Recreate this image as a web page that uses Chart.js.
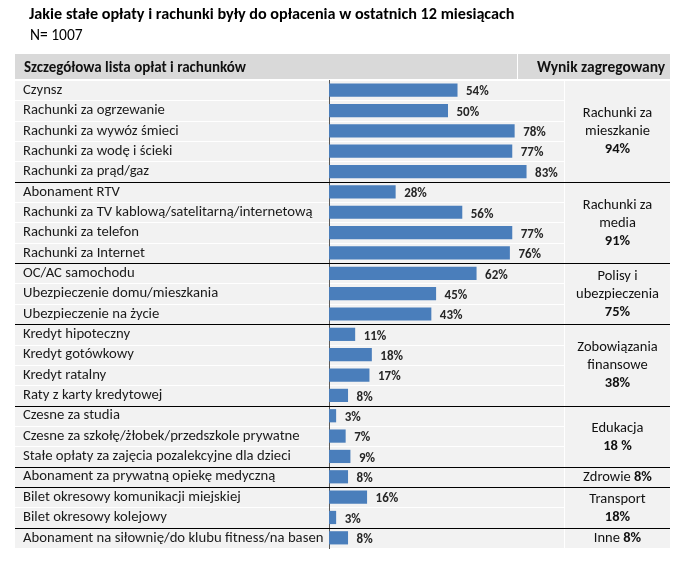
<!DOCTYPE html>
<html><head><meta charset="utf-8">
<script src="https://cdn.jsdelivr.net/npm/chart.js@4/dist/chart.umd.min.js"></script>
<style>html,body{margin:0;padding:0;background:#fff;}#wrap{width:686px;height:563px;position:relative;}</style>
</head><body><div id="wrap"><canvas id="c"></canvas></div>
<script>
const title = "Jakie stałe opłaty i rachunki były do opłacenia w ostatnich 12 miesiącach";
const subtitle = "N= 1007";
const headerLeft = "Szczegółowa lista opłat i rachunków";
const headerRight = "Wynik zagregowany";
const categories = [
  "Czynsz","Rachunki za ogrzewanie","Rachunki za wywóz śmieci","Rachunki za wodę i ścieki","Rachunki za prąd/gaz",
  "Abonament RTV","Rachunki za TV kablową/satelitarną/internetową","Rachunki za telefon","Rachunki za Internet",
  "OC/AC samochodu","Ubezpieczenie domu/mieszkania","Ubezpieczenie na życie",
  "Kredyt hipoteczny","Kredyt gotówkowy","Kredyt ratalny","Raty z karty kredytowej",
  "Czesne za studia","Czesne za szkołę/żłobek/przedszkole prywatne","Stałe opłaty za zajęcia pozalekcyjne dla dzieci",
  "Abonament za prywatną opiekę medyczną",
  "Bilet okresowy komunikacji miejskiej","Bilet okresowy kolejowy",
  "Abonament na siłownię/do klubu fitness/na basen"
];
const values = [54,50,78,77,83,28,56,77,76,62,45,43,11,18,17,8,3,7,9,8,16,3,8];
const groupSizes = [5,4,3,4,3,1,2,1];
const groupNames = [["Rachunki za","mieszkanie"],["Rachunki za","media"],["Polisy i","ubezpieczenia"],["Zobowiązania","finansowe"],["Edukacja"],["Zdrowie"],["Transport"],["Inne"]];
const groupTotals = ["94%","91%","75%","38%","18 %","8%","18%","8%"];
const groupInline = [false,false,false,false,false,true,false,true];

const FONT = 'Carlito, Lato, "Open Sans", sans-serif';
const L = 15, R = 670, COL2 = 564, HDIV = 517;

const tablePlugin = {
  id: 'table',
  beforeDraw(chart) {
    const ctx = chart.ctx, ca = chart.chartArea, y = chart.scales.y;
    const n = categories.length, rh = (ca.bottom - ca.top) / n;
    ctx.save();
    ctx.fillStyle = '#fff';
    ctx.fillRect(0, 0, chart.width, chart.height);
    ctx.fillStyle = '#000';
    ctx.textBaseline = 'middle';
    ctx.textAlign = 'left';
    ctx.font = 'bold 16.2px ' + FONT;
    ctx.fillText(title, 29, 15);
    ctx.font = '15.5px ' + FONT;
    ctx.fillText(subtitle, 30, 36);
    // header
    ctx.fillStyle = '#d9d9d9';
    ctx.fillRect(L, 54, R - L, ca.top - 55);
    ctx.fillStyle = '#fff';
    ctx.fillRect(HDIV, 54, 1, ca.top - 55);
    ctx.fillStyle = '#111';
    ctx.font = 'bold 15px ' + FONT;
    ctx.fillText(headerLeft, 24, 68);
    ctx.font = 'bold 15.5px ' + FONT;
    ctx.textAlign = 'center';
    ctx.fillText(headerRight, 601, 68);
    // rows
    ctx.fillStyle = '#f2f2f2';
    for (let i = 0; i < n; i++) {
      const c = y.getPixelForValue(i);
      const t = Math.round(c - rh / 2), b = Math.round(c + rh / 2);
      ctx.fillRect(L, t + 1, COL2 - L, b - t - 1);
    }
    let idx = 0;
    groupSizes.forEach(s => {
      const t = Math.round(y.getPixelForValue(idx) - rh / 2);
      const b = Math.round(y.getPixelForValue(idx + s - 1) + rh / 2);
      ctx.fillRect(COL2 + 1, t + 1, R - COL2 - 1, b - t - 1);
      idx += s;
    });
    ctx.restore();
  },
  afterDraw(chart) {
    const ctx = chart.ctx, ca = chart.chartArea, y = chart.scales.y;
    const n = categories.length, rh = (ca.bottom - ca.top) / n;
    const meta = chart.getDatasetMeta(0);
    ctx.save();
    ctx.textBaseline = 'middle';
    ctx.textAlign = 'left';
    ctx.fillStyle = '#262626';
    ctx.font = 'bold 13px ' + FONT;
    meta.data.forEach((bar, i) => {
      ctx.fillText(values[i] + '%', bar.x + 8.5, bar.y + 2);
    });
    // group lines and labels
    let idx = 0;
    groupSizes.forEach((s, g) => {
      const t = y.getPixelForValue(idx) - rh / 2;
      const b = y.getPixelForValue(idx + s - 1) + rh / 2;
      if (idx > 0) {
        ctx.fillStyle = '#000';
        ctx.fillRect(L, Math.round(t), R - L, 1);
      }
      const cx = 617.5, cy = (t + b) / 2 + 1;
      ctx.fillStyle = '#111';
      const fs = '14.5px ';
      if (groupInline[g]) {
        const a = groupNames[g][0] + ' ';
        ctx.font = 'bold ' + fs + FONT;
        const wb = ctx.measureText(groupTotals[g]).width;
        ctx.font = fs + FONT;
        const wa = ctx.measureText(a).width;
        const x0 = cx - (wa + wb) / 2;
        ctx.textAlign = 'left';
        ctx.fillText(a, x0, cy);
        ctx.font = 'bold ' + fs + FONT;
        ctx.fillText(groupTotals[g], x0 + wa, cy);
      } else {
        const lines = groupNames[g].length + 1, lh = 18;
        const y0 = cy - (lines - 1) * lh / 2;
        ctx.textAlign = 'center';
        ctx.font = fs + FONT;
        groupNames[g].forEach((ln, k) => ctx.fillText(ln, cx, y0 + k * lh));
        ctx.font = 'bold ' + fs + FONT;
        ctx.fillText(groupTotals[g], cx, y0 + (lines - 1) * lh);
      }
      idx += s;
    });
    ctx.restore();
  }
};

new Chart(document.getElementById('c'), {
  type: 'bar',
  data: {
    labels: categories,
    datasets: [{ data: values, backgroundColor: '#4a7ebb', barPercentage: 0.65, categoryPercentage: 1 }]
  },
  options: {
    indexAxis: 'y',
    responsive: true,
    maintainAspectRatio: false,
    animation: false,
    layout: { padding: { left: 23, top: 80, right: 119, bottom: 15 } },
    plugins: { legend: { display: false }, tooltip: { enabled: false } },
    scales: {
      x: { display: false, min: 0, max: 100 },
      y: {
        grid: { display: false },
        border: { display: true, color: '#595959', width: 1 },
        ticks: { crossAlign: 'far', padding: 0, autoSkip: false, color: '#1a1a1a', font: { size: 14.7, family: FONT } },
        afterFit(scale) { scale.width = 306; }
      }
    }
  },
  plugins: [tablePlugin]
});
</script>
</body></html>
